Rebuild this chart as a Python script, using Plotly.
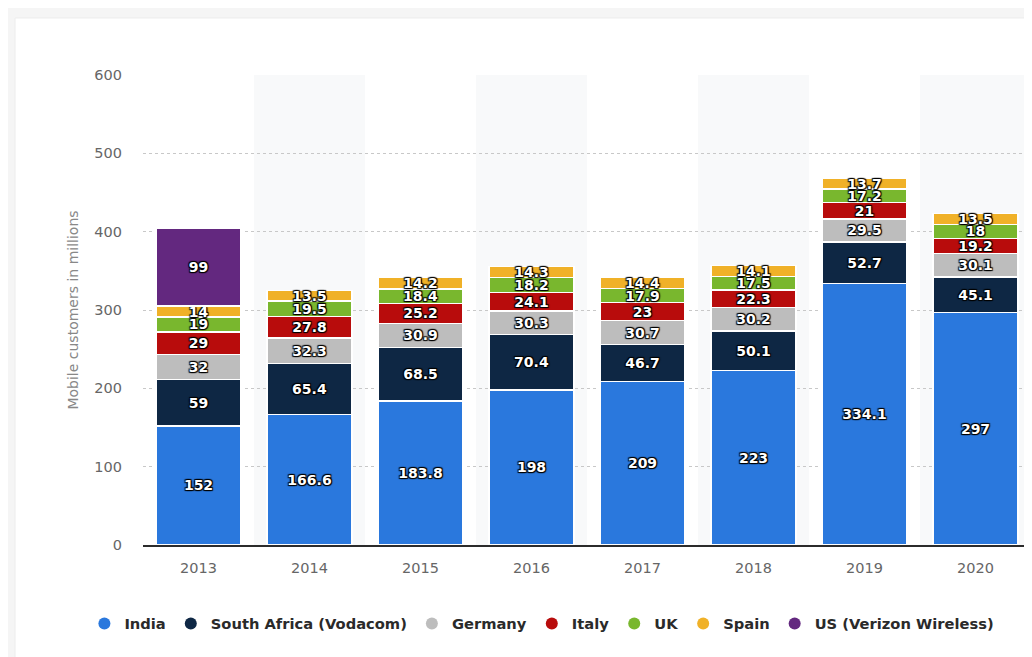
import plotly.graph_objects as go

years = ["2013", "2014", "2015", "2016", "2017", "2018", "2019", "2020"]
india = [152, 166.6, 183.8, 198, 209, 223, 334.1, 297]
south_africa = [59, 65.4, 68.5, 70.4, 46.7, 50.1, 52.7, 45.1]
germany = [32, 32.3, 30.9, 30.3, 30.7, 30.2, 29.5, 30.1]
italy = [29, 27.8, 25.2, 24.1, 23, 22.3, 21, 19.2]
uk = [19, 19.5, 18.4, 18.2, 17.9, 17.5, 17.2, 18]
spain = [14, 13.5, 14.2, 14.3, 14.4, 14.1, 13.7, 13.5]
us = [99, None, None, None, None, None, None, None]

series = [
    ("India", india, "#2a78dd"),
    ("South Africa (Vodacom)", south_africa, "#0e2744"),
    ("Germany", germany, "#bdbdbd"),
    ("Italy", italy, "#b80c0c"),
    ("UK", uk, "#79b72e"),
    ("Spain", spain, "#f0b128"),
    ("US (Verizon Wireless)", us, "#63287f"),
]

fig = go.Figure()

for name, vals, color in series:
    fig.add_trace(go.Bar(
        x=years, y=vals, name=name,
        marker=dict(color=color, line=dict(color="white", width=1.2)),
        text=[("" if v is None else f"{v:g}") for v in vals],
        textposition="inside",
        insidetextanchor="middle",
        constraintext="none",
        textangle=0,
        textfont=dict(family="DejaVu Sans, sans-serif", size=14,
                      color="white", weight="bold",
                      shadow="1px 1px 1px #000, -1px -1px 1px #000, 1px -1px 1px #000, -1px 1px 1px #000"),
        showlegend=False,
        hoverinfo="x+y+name",
    ))

for name, vals, color in series:
    fig.add_trace(go.Scatter(
        x=[None], y=[None], mode="markers", name=name,
        marker=dict(symbol="circle", size=15, color=color),
        showlegend=True,
    ))

# the page body has an 8px margin; the figure is sized/offset to compensate
shapes = []
shapes.append(dict(type="rect", xref="paper", yref="paper",
                   x0=-0.1441, x1=1.05, y0=-0.35, y1=1.1213,
                   fillcolor="white", line=dict(color="#ececec", width=1), layer="below"))
for i in range(1, len(years), 2):
    shapes.append(dict(type="rect", xref="x", yref="y",
                       x0=i - 0.5, x1=i + 0.5, y0=0, y1=600,
                       fillcolor="#f8f9fa", line=dict(width=0), layer="below"))

fig.update_layout(
    width=1024, height=649,
    margin=dict(l=135, r=1, t=67, b=112),
    paper_bgcolor="#f5f5f5",
    plot_bgcolor="rgba(0,0,0,0)",
    barmode="stack",
    bargap=0.234,
    shapes=shapes,
    font=dict(family="DejaVu Sans, sans-serif", color="#555"),
    legend=dict(orientation="h", x=-0.066, xanchor="left", y=-0.168, yanchor="middle",
                font=dict(family="DejaVu Sans, sans-serif", size=14.7, color="#2a2a2a", weight="bold"),
                itemsizing="constant", bgcolor="rgba(0,0,0,0)", itemwidth=30, traceorder="normal"),
)

fig.update_xaxes(
    type="category", range=[-0.5, 7.5],
    showline=True, linecolor="#2b2b2b", linewidth=1.5,
    showgrid=False, ticks="",
    tickfont=dict(size=14.5, color="#666"),
    ticklabelstandoff=9,
)
fig.update_yaxes(
    range=[0, 600], dtick=100,
    showgrid=True, gridcolor="#c8c8c8", griddash="dot", gridwidth=1,
    zeroline=False, showline=False,
    tickfont=dict(size=14.5, color="#666"),
    ticklabelstandoff=20,
    title=dict(text="Mobile customers in millions", font=dict(size=14, color="#888"), standoff=12),
)

fig.write_html("out.html")
